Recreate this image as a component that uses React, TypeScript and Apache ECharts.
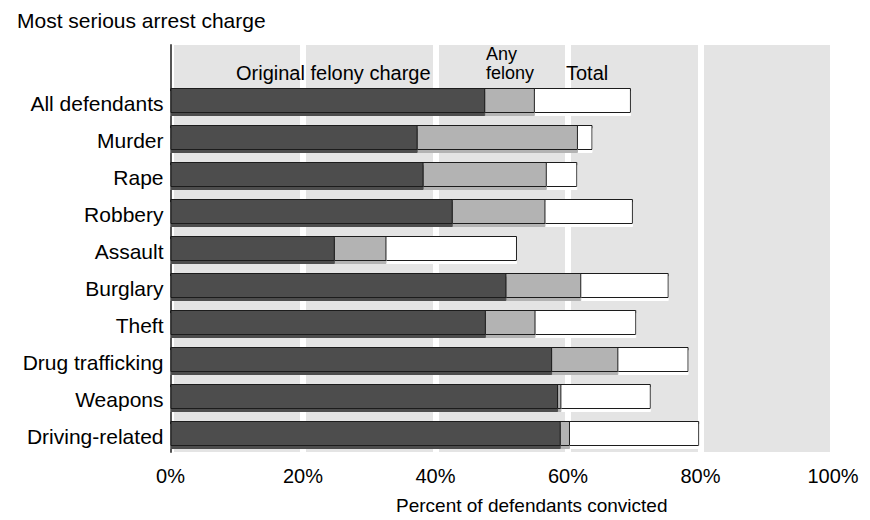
import React, { useEffect, useRef } from "react";
import * as echarts from "echarts";

const categories = [
  "All defendants",
  "Murder",
  "Rape",
  "Robbery",
  "Assault",
  "Burglary",
  "Theft",
  "Drug trafficking",
  "Weapons",
  "Driving-related",
];
const originalFelony = [47.5, 37.3, 38.2, 42.6, 24.8, 50.7, 47.6, 57.6, 58.5, 58.9];
const anyFelony = [55.0, 61.5, 56.8, 56.6, 32.6, 62.0, 55.1, 67.6, 59.0, 60.3];
const total = [69.5, 63.7, 61.4, 69.8, 52.3, 75.2, 70.3, 78.2, 72.5, 79.8];
const tickValues = [0, 20, 40, 60, 80, 100];
const seriesNames = ["Original felony charge", "Any felony", "Total"];

const FONT = "Liberation Sans, Arial, sans-serif";

export default function App() {
  const ref = useRef<HTMLDivElement>(null);
  useEffect(() => {
    if (!ref.current) return;
    const chart = echarts.init(ref.current, null, { renderer: "svg" });
    const axisCats = ["", ...categories];
    const pad = (arr: number[]) => ["-", ...arr];
    const barCommon = (color: string, data: any[], name: string, z: number) => ({
      type: "bar",
      name,
      data,
      barWidth: 25,
      barGap: "-100%",
      z,
      itemStyle: {
        color,
        borderColor: "#1a1a1a",
        borderWidth: 1,
        shadowColor: color,
        shadowBlur: 0,
        shadowOffsetY: 3,
      },
    });
    const [anyWord, felonyWord] = seriesNames[1].split(" ");
    chart.setOption({
      animation: false,
      backgroundColor: "#ffffff",
      textStyle: { fontFamily: FONT },
      title: {
        text: "Most serious arrest charge",
        left: 12,
        top: 5,
        textStyle: { fontFamily: FONT, fontSize: 21, fontWeight: "normal", color: "#000" },
      },
      grid: {
        left: 170.5,
        right: 37,
        top: 45,
        bottom: 63,
        show: true,
        backgroundColor: "#e4e4e4",
        borderWidth: 0,
      },
      xAxis: {
        type: "value",
        min: tickValues[0],
        max: tickValues[tickValues.length - 1],
        interval: 20,
        name: "Percent of defendants convicted",
        nameLocation: "middle",
        nameGap: 44,
        nameTextStyle: { fontFamily: FONT, fontSize: 19, color: "#000", padding: [0, 0, 0, 60] },
        axisLine: { show: false },
        axisTick: { show: false },
        axisLabel: {
          formatter: "{value}%",
          fontFamily: FONT,
          fontSize: 20,
          color: "#000",
          margin: 14,
        },
        splitLine: { show: true, lineStyle: { color: "#ffffff", width: 6 } },
      },
      yAxis: {
        type: "category",
        inverse: true,
        data: axisCats,
        axisLine: { show: true, lineStyle: { color: "#555555", width: 2 } },
        axisTick: { show: false },
        axisLabel: {
          fontFamily: FONT,
          fontSize: 21,
          color: "#000",
          margin: 7,
          lineHeight: 6,
          verticalAlign: "top",
        },
        splitLine: { show: false },
      },
      series: [
        barCommon("#ffffff", pad(total), seriesNames[2], 2),
        barCommon("#b3b3b3", pad(anyFelony), seriesNames[1], 3),
        barCommon("#4d4d4d", pad(originalFelony), seriesNames[0], 4),
      ],
      graphic: [
        {
          type: "text",
          x: 236,
          y: 72.5,
          z: 100,
          style: { text: seriesNames[0], font: `20px ${FONT}`, fill: "#000", verticalAlign: "middle" },
        },
        {
          type: "text",
          x: 486,
          y: 53.5,
          z: 100,
          style: { text: anyWord, font: `18px ${FONT}`, fill: "#000", verticalAlign: "middle" },
        },
        {
          type: "text",
          x: 486,
          y: 72.5,
          z: 100,
          style: { text: felonyWord, font: `18px ${FONT}`, fill: "#000", verticalAlign: "middle" },
        },
        {
          type: "text",
          x: 566,
          y: 72.5,
          z: 100,
          style: { text: seriesNames[2], font: `20px ${FONT}`, fill: "#000", verticalAlign: "middle" },
        },
      ],
    });
    return () => chart.dispose();
  }, []);
  return <div ref={ref} style={{ width: 870, height: 520, margin: -8 }} />;
}
